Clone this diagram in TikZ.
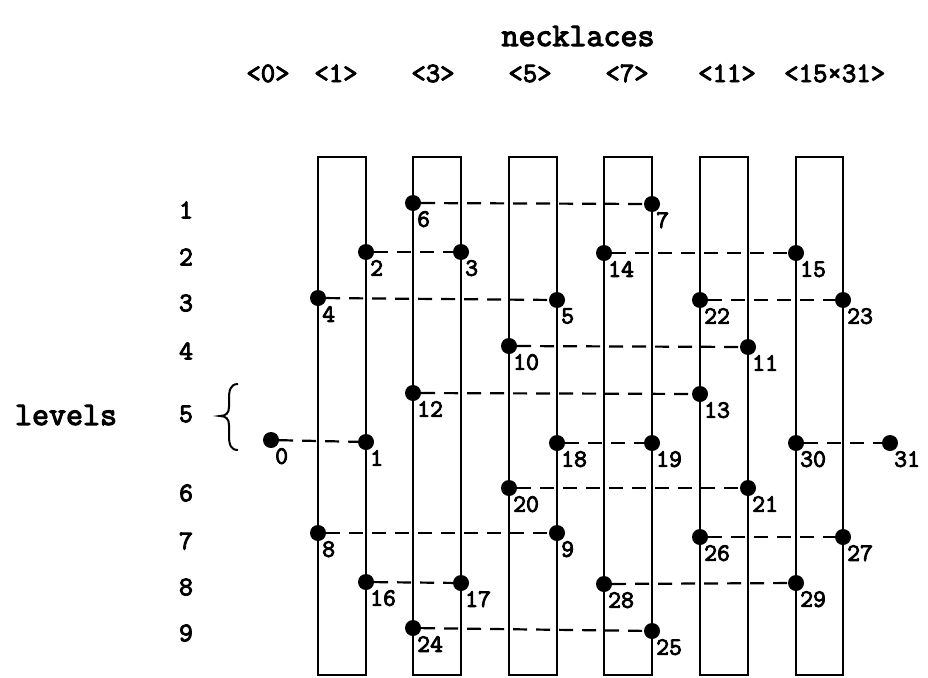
\documentclass[tikz,border=0pt]{standalone}
\usepackage{fontspec}
\newfontfamily\tw[FakeBold=3.5]{Latin Modern Mono}
\begin{document}
\begin{tikzpicture}[x=1pt,y=-1pt,
  dot/.style={circle,fill=black,inner sep=0pt,minimum size=16pt},
  lab/.style={anchor=north west,inner sep=0pt,font=\tw\fontsize{25}{25}\selectfont},
  lvl/.style={inner sep=0pt,font=\tw\fontsize{27}{27}\selectfont},
  head/.style={inner sep=0pt,anchor=base,font=\tw\fontsize{28}{28}\selectfont},
  big/.style={inner sep=0pt,font=\tw\fontsize{33}{33}\selectfont},
  conn/.style={line width=2.2pt,dash pattern=on 14pt off 9pt},
  rail/.style={line width=2.8pt},
  bracestyle/.style={line width=2pt}]
\useasboundingbox (0,0) rectangle (928,677);

% titles
\node[big,anchor=base] (title) at (578,46) {necklaces};
\node[head] (h0) at (268,82) {<0>};
\node[head] (h1) at (336,82) {<1>};
\node[head] (h3) at (433,82) {<3>};
\node[head] (h5) at (530,82) {<5>};
\node[head] (h7) at (627,82) {<7>};
\node[head] (h11) at (727,82) {<11>};
\node[head,anchor=base west] (h15) at (784,82) {<15×31>};

% rectangles (necklace rails)
\foreach \l/\r in {318/366,413/461,509/557,604/652,700/748,796/843}
  \draw[rail] (\l,157) rectangle (\r,675);

% level labels
\node[big] (levels) at (66,415) {levels};
\foreach \n/\y in {1/210,2/257,3/303,4/351,5/414,6/493,7/541,8/587,9/633}
  \node[lvl] (L\n) at (186,\y) {\n};
\draw[bracestyle] (238,384) .. controls (230,384) and (229,391) .. (229,399)
  -- (229,407) .. controls (229,413) and (226,416) .. (220,416)
  .. controls (226,416) and (229,419) .. (229,425)
  -- (229,436) .. controls (229,445) and (231,450) .. (238,450);

% dots
\foreach \n/\x/\y in {
  6/413/203, 7/652/204,
  2/366/252, 3/461/252, 14/604/253, 15/796/253,
  4/318/298, 5/557/300, 22/700/300, 23/843/300,
  10/509/346, 11/748/347,
  12/413/393, 13/700/394,
  0/271/440, 1/366/442, 18/557/443, 19/652/443, 30/796/443, 31/890/443,
  20/509/488, 21/748/488,
  8/318/533, 9/557/533, 26/700/537, 27/843/537,
  16/366/582, 17/461/583, 28/604/584, 29/796/583,
  24/413/628, 25/652/631}
{
  \node[dot] (d\n) at (\x,\y) {};
  \node[lab] (t\n) at ([xshift=4pt,yshift=-8pt]d\n.center) {\n};
}

% connectors
\foreach \a/\b in {6/7,2/3,14/15,4/5,22/23,10/11,12/13,0/1,18/19,30/31,20/21,8/9,26/27,16/17,28/29,24/25}
  \draw[conn] (d\a) -- (d\b);
\end{tikzpicture}
\end{document}
